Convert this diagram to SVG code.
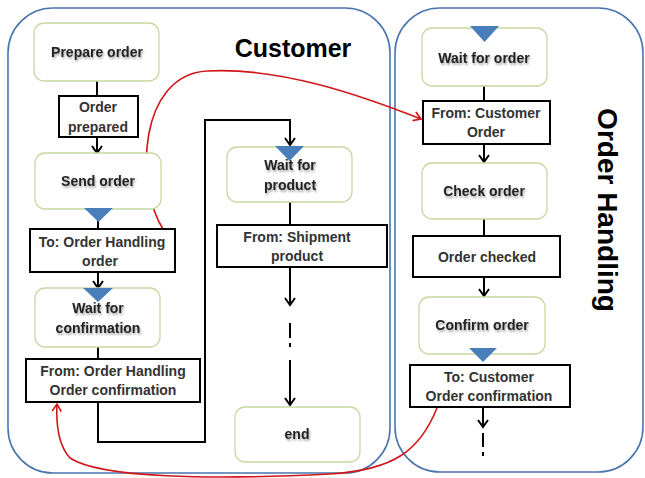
<svg xmlns="http://www.w3.org/2000/svg" width="645" height="478" viewBox="0 0 645 478">
  <style>
    .lane { fill: none; stroke: #4a76ad; stroke-width: 1.6; }
    .lane-title { font-family: "Liberation Sans", Arial, sans-serif; font-weight: bold; fill: #000; }
    .step { fill: #fff; stroke: #c5d9a0; stroke-width: 1.3; }
    .step-text { font-family: "Liberation Sans", Arial, sans-serif; font-size: 14px; font-weight: bold; fill: #222; text-anchor: middle; filter: url(#soft); }
    .msg { fill: #fff; stroke: #000; stroke-width: 2; }
    .msg-text { font-family: "Liberation Sans", Arial, sans-serif; font-size: 14px; font-weight: bold; fill: #333; text-anchor: middle; }
    .flow { fill: none; stroke: #000; stroke-width: 2; }
    .flow-arrow { fill: none; stroke: #000; stroke-width: 2; marker-end: url(#chev); }
    .send { fill: none; stroke: #d0161a; stroke-width: 1.6; marker-end: url(#redhead); }
    .event { fill: #4a7ebb; }
  </style>
  <defs>
    <filter id="soft" x="-10%" y="-30%" width="120%" height="160%">
      <feGaussianBlur in="SourceAlpha" stdDeviation="1.2" result="b"/>
      <feOffset in="b" dx="1" dy="1.5" result="o"/>
      <feComponentTransfer in="o" result="s"><feFuncA type="linear" slope="0.35"/></feComponentTransfer>
      <feMerge><feMergeNode in="s"/><feMergeNode in="SourceGraphic"/></feMerge>
    </filter>
    <marker id="chev" viewBox="0 0 12 12" refX="10" refY="6" markerWidth="12" markerHeight="12" markerUnits="userSpaceOnUse" orient="auto">
      <polyline points="3,1 10,6 3,11" fill="none" stroke="#000" stroke-width="2"/>
    </marker>
    <marker id="redhead" viewBox="0 0 12 12" refX="10" refY="6" markerWidth="11" markerHeight="11" markerUnits="userSpaceOnUse" orient="auto">
      <polyline points="2,1 10,6 2,11" fill="none" stroke="#d0161a" stroke-width="1.8"/>
    </marker>
  </defs>

  <!-- swimlanes -->
  <g id="lane-customer">
    <rect class="lane" x="8" y="8" width="382" height="465" rx="45" ry="45"/>
    <text class="lane-title" x="293" y="57" font-size="25" text-anchor="middle">Customer</text>
  </g>
  <g id="lane-order-handling">
    <rect class="lane" x="395" y="8" width="248" height="464" rx="45" ry="45"/>
    <text class="lane-title" x="0" y="0" font-size="28" text-anchor="middle" transform="translate(598,210) rotate(90)">Order Handling</text>
  </g>

  <!-- connectors -->
  <g id="connectors">
    <!-- customer flow -->
    <line class="flow" x1="97" y1="81" x2="97" y2="96"/>
    <line class="flow-arrow" x1="97" y1="137" x2="97" y2="153"/>
    <line class="flow" x1="98" y1="220" x2="98" y2="229"/>
    <line class="flow-arrow" x1="98" y1="272" x2="98" y2="288"/>
    <line class="flow" x1="98" y1="347" x2="98" y2="359"/>
    <polyline class="flow-arrow" points="98,402 98,442 205,442 205,120 290,120 290,145"/>
    <line class="flow" x1="290" y1="202" x2="290" y2="225"/>
    <line class="flow-arrow" x1="290" y1="267" x2="290" y2="305"/>
    <line class="flow" x1="290" y1="323" x2="290" y2="338"/>
    <line class="flow" x1="290" y1="343" x2="290" y2="347"/>
    <line class="flow-arrow" x1="290" y1="360" x2="290" y2="405"/>
    <!-- order handling flow -->
    <line class="flow" x1="484" y1="86" x2="484" y2="101"/>
    <line class="flow-arrow" x1="484" y1="144" x2="484" y2="162"/>
    <line class="flow" x1="484" y1="219" x2="484" y2="236"/>
    <line class="flow-arrow" x1="484" y1="277" x2="484" y2="296"/>
    <line class="flow-arrow" x1="483" y1="407" x2="483" y2="427"/>
    <line class="flow" x1="483" y1="433" x2="483" y2="447"/>
    <line class="flow" x1="483" y1="452" x2="483" y2="456"/>
    <!-- messages between lanes -->
    <path class="send" d="M163,229 C135,185 138,75 207,71 C280,67 360,95 421,119"/>
    <path class="send" d="M437,408 C420,450 395,470 330,474 C210,480 100,478 70,458 C58,445 56,425 57,404"/>
  </g>

  <!-- customer steps -->
  <g id="prepare-order">
    <rect class="step" x="34" y="23" width="125" height="58" rx="10"/>
    <text class="step-text" x="97" y="57">Prepare order</text>
  </g>
  <g id="order-prepared">
    <rect class="msg" x="59" y="96" width="79" height="41"/>
    <text class="msg-text" x="98" y="112">Order</text>
    <text class="msg-text" x="98" y="132">prepared</text>
  </g>
  <g id="send-order">
    <rect class="step" x="35" y="153" width="126" height="56" rx="10"/>
    <text class="step-text" x="98" y="186">Send order</text>
    <polygon class="event" points="84,208 113,208 98.5,222"/>
  </g>
  <g id="to-order-handling">
    <rect class="msg" x="30" y="229" width="145" height="43"/>
    <text class="msg-text" x="102" y="247">To: Order Handling</text>
    <text class="msg-text" x="100" y="266">order</text>
  </g>
  <g id="wait-for-confirmation">
    <rect class="step" x="35" y="288" width="125" height="59" rx="10"/>
    <polygon class="event" points="83,288 113,288 98,302"/>
    <text class="step-text" x="98" y="313">Wait for</text>
    <text class="step-text" x="98" y="333">confirmation</text>
  </g>
  <g id="from-order-handling">
    <rect class="msg" x="26" y="359" width="174" height="43"/>
    <text class="msg-text" x="113" y="376">From: Order Handling</text>
    <text class="msg-text" x="113" y="395">Order confirmation</text>
  </g>
  <g id="wait-for-product">
    <rect class="step" x="227" y="147" width="125" height="55" rx="10"/>
    <polygon class="event" points="275,146 304,146 289.5,161"/>
    <text class="step-text" x="290" y="170">Wait for</text>
    <text class="step-text" x="290" y="190">product</text>
  </g>
  <g id="from-shipment">
    <rect class="msg" x="217" y="225" width="170" height="42"/>
    <text class="msg-text" x="297" y="242">From: Shipment</text>
    <text class="msg-text" x="297" y="261">product</text>
  </g>
  <g id="end">
    <rect class="step" x="235" y="407" width="125" height="55" rx="10"/>
    <text class="step-text" x="297" y="439">end</text>
  </g>

  <!-- order handling steps -->
  <g id="wait-for-order">
    <rect class="step" x="422" y="28" width="125" height="58" rx="10"/>
    <polygon class="event" points="470,26 499,26 484.5,42"/>
    <text class="step-text" x="484" y="63">Wait for order</text>
  </g>
  <g id="from-customer">
    <rect class="msg" x="423" y="101" width="127" height="43"/>
    <text class="msg-text" x="486" y="118">From: Customer</text>
    <text class="msg-text" x="486" y="137">Order</text>
  </g>
  <g id="check-order">
    <rect class="step" x="422" y="163" width="125" height="56" rx="10"/>
    <text class="step-text" x="484" y="196">Check order</text>
  </g>
  <g id="order-checked">
    <rect class="msg" x="413" y="236" width="147" height="41"/>
    <text class="msg-text" x="487" y="262">Order checked</text>
  </g>
  <g id="confirm-order">
    <rect class="step" x="419" y="297" width="126" height="57" rx="10"/>
    <text class="step-text" x="482" y="330">Confirm order</text>
    <polygon class="event" points="469,348 497,348 483,362"/>
  </g>
  <g id="to-customer">
    <rect class="msg" x="410" y="365" width="160" height="42"/>
    <text class="msg-text" x="489" y="382">To: Customer</text>
    <text class="msg-text" x="489" y="401">Order confirmation</text>
  </g>
</svg>
